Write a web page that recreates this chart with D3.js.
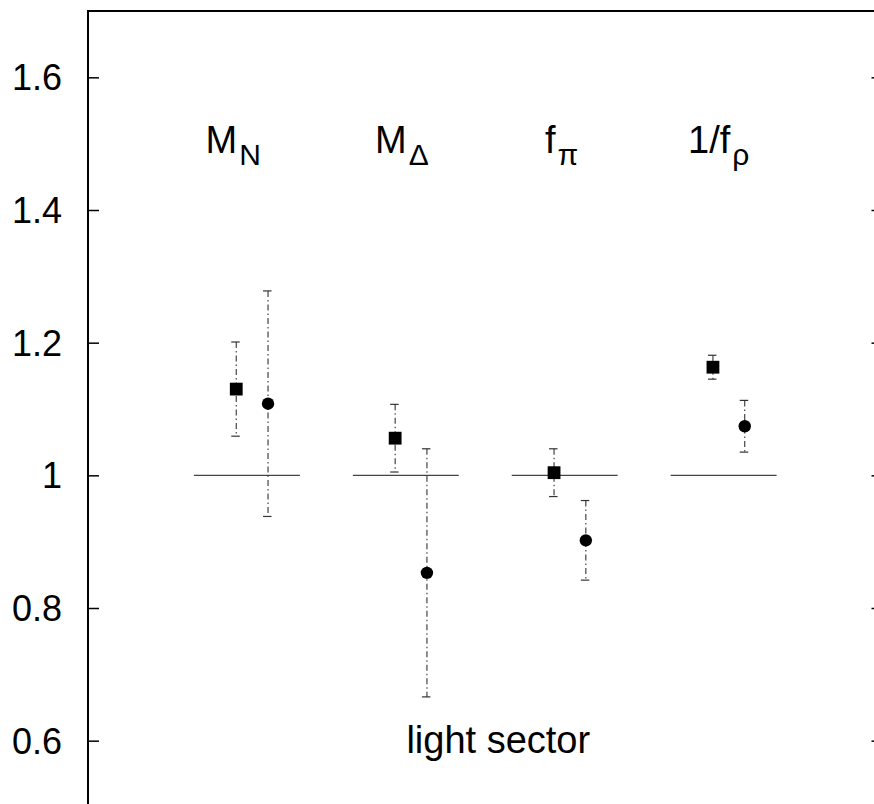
<!DOCTYPE html>
<html>
<head>
<meta charset="utf-8">
<script src="https://cdn.jsdelivr.net/npm/d3@7"></script>
<style>
  html, body { margin: 0; padding: 0; background: #fff; }
  svg { display: block; }
  text { font-family: "Liberation Sans", Arial, Helvetica, sans-serif; fill: #000; }
</style>
</head>
<body>
<svg id="chart" width="874" height="804"></svg>
<script>
// ---------- data ----------
const categories = ["M_N", "M_Δ", "f_π", "1/f_ρ"];
const labelMain = ["M", "M", "f", "1/f"];
const labelSub = ["N", "Δ", "π", "ρ"];
const squareValues = [1.130, 1.056, 1.004, 1.163];
const squareErrors = [0.071, 0.051, 0.036, 0.018];
const circleValues = [1.108, 0.853, 0.902, 1.074];
const circleErrors = [0.170, 0.187, 0.060, 0.039];
const referenceValue = 1;
const yTicks = [0.6, 0.8, 1.0, 1.2, 1.4, 1.6];
const yTickLabels = ["0.6", "0.8", "1", "1.2", "1.4", "1.6"];
const annotation = "light sector";

// ---------- layout ----------
const plotLeft = 88, plotRight = 882.5, plotTop = 11, plotBottom = 807;
const squareShift = -0.067, circleShift = 0.133, refHalf = 1 / 3;
const labelOffset = [-0.26, -0.194, -0.124, -0.224];

const svg = d3.select("#chart");
const x = d3.scaleLinear().domain([0, 5]).range([plotLeft, plotRight]);
const y = d3.scaleLinear().domain([0.5, 1.7]).range([plotBottom, plotTop]);

// frame
svg.append("rect")
  .attr("x", plotLeft).attr("y", plotTop)
  .attr("width", plotRight - plotLeft).attr("height", plotBottom - plotTop)
  .attr("fill", "none").attr("stroke", "#000").attr("stroke-width", 2);

// left axis
const yAxisL = d3.axisRight(y).tickValues(yTicks).tickSize(11)
  .tickFormat((d, i) => yTickLabels[i]);
const gL = svg.append("g").attr("transform", `translate(${plotLeft},0)`).call(yAxisL);
gL.select(".domain").remove();
gL.selectAll(".tick line").attr("stroke", "#000").attr("stroke-width", 1.5);
gL.selectAll(".tick text")
  .attr("x", -26).attr("dy", "0.35em")
  .attr("text-anchor", "end")
  .attr("fill", "#000")
  .style("font-size", "36px")
  .style("font-family", "'Liberation Sans', Arial, sans-serif");

// right axis (ticks only)
const yAxisR = d3.axisLeft(y).tickValues(yTicks).tickSize(11).tickFormat("");
const gR = svg.append("g").attr("transform", `translate(${plotRight},0)`).call(yAxisR);
gR.select(".domain").remove();
gR.selectAll(".tick line").attr("stroke", "#000").attr("stroke-width", 1.5);

const idx = categories.map((c, i) => i);

// reference lines
svg.append("g").selectAll("line").data(idx).join("line")
  .attr("x1", i => x(i + 1 - refHalf))
  .attr("x2", i => x(i + 1 + refHalf))
  .attr("y1", y(referenceValue)).attr("y2", y(referenceValue))
  .attr("stroke", "#444").attr("stroke-width", 1.3);

// error bars
function errorBars(values, errors, shift) {
  const g = svg.append("g");
  const bars = g.selectAll("g").data(idx).join("g");
  bars.append("line")
    .attr("x1", i => x(i + 1 + shift)).attr("x2", i => x(i + 1 + shift))
    .attr("y1", i => y(values[i] + errors[i]))
    .attr("y2", i => y(values[i] - errors[i]))
    .attr("stroke", "#333").attr("stroke-width", 1.1)
    .attr("stroke-dasharray", "6,3,1.5,3");
  [1, -1].forEach(s => {
    bars.append("line")
      .attr("x1", i => x(i + 1 + shift) - 5).attr("x2", i => x(i + 1 + shift) + 3.5)
      .attr("y1", i => y(values[i] + s * errors[i]))
      .attr("y2", i => y(values[i] + s * errors[i]))
      .attr("stroke", "#333").attr("stroke-width", 1.2);
  });
}
errorBars(squareValues, squareErrors, squareShift);
errorBars(circleValues, circleErrors, circleShift);

// squares
svg.append("g").selectAll("rect").data(idx).join("rect")
  .attr("x", i => x(i + 1 + squareShift) - 6.4)
  .attr("y", i => y(squareValues[i]) - 6.4)
  .attr("width", 12.8).attr("height", 12.8)
  .attr("fill", "#000");

// circles
svg.append("g").selectAll("circle").data(idx).join("circle")
  .attr("cx", i => x(i + 1 + circleShift))
  .attr("cy", i => y(circleValues[i]))
  .attr("r", 6.2)
  .attr("fill", "#000");

// category labels
const labels = svg.append("g").selectAll("text").data(idx).join("text")
  .attr("x", i => x(i + 1 + labelOffset[i]))
  .attr("y", y(1.5) + 9)
  .style("font-size", "38px");
labels.append("tspan").text(i => labelMain[i]);
labels.append("tspan")
  .attr("dx", 2).attr("dy", 12)
  .style("font-size", "30px")
  .text(i => labelSub[i]);

// annotation
svg.append("text")
  .attr("x", x(2.5) + 13)
  .attr("y", y(0.6) + 12.6)
  .attr("text-anchor", "middle")
  .style("font-size", "38px")
  .text(annotation);
</script>
</body>
</html>
